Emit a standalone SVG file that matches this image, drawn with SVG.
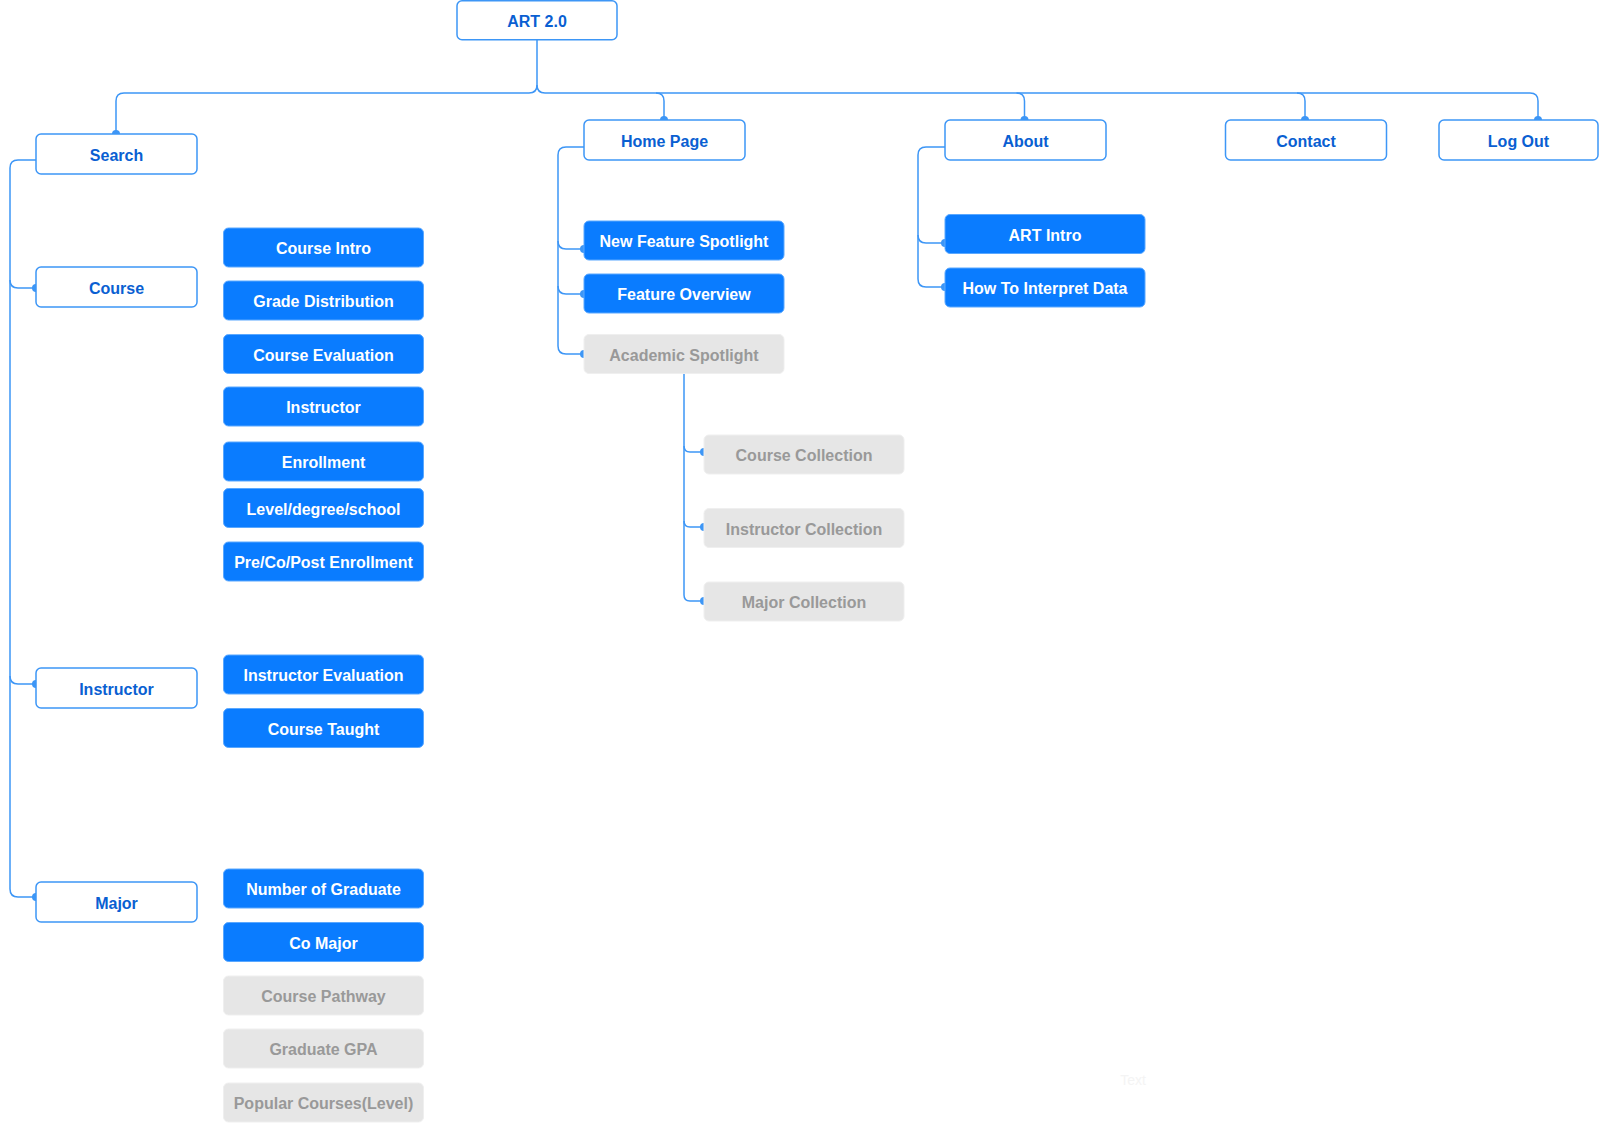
<svg xmlns="http://www.w3.org/2000/svg" width="1600" height="1126" viewBox="0 0 1600 1126">
<style>
  text { font-family: "Liberation Sans", Arial, sans-serif; font-weight: bold; font-size: 16px; text-anchor: middle; }
  .out rect { fill: #ffffff; stroke: #3d96f6; stroke-width: 1.5; }
  .out text { fill: #0a5fd2; }
  .blue rect { fill: #0a7cff; stroke: #5aa8ff; stroke-width: 1; }
  .blue text { fill: #ffffff; }
  .grey rect { fill: #e6e6e6; stroke: #efefef; stroke-width: 1; }
  .grey text { fill: #999999; }
  .conn path { fill: none; stroke: #3d96f6; stroke-width: 1.5; }
  .conn circle { fill: #3d96f6; }
</style>
<rect width="1600" height="1126" fill="#ffffff"/>
<g id="connectors" class="conn">
  <path d="M537,40 V85 Q537,93 529,93 H124 Q116,93 116,101 V134"/>
  <path d="M537,85 Q537,93 545,93 H1530 Q1538,93 1538,101 V120"/>
  <path d="M656,93 Q664,93 664,101 V120"/>
  <path d="M1016.5,93 Q1024.5,93 1024.5,101 V120"/>
  <path d="M1297,93 Q1305,93 1305,101 V120"/>
  <path d="M36,160 H18 Q10,160 10,168 V889 Q10,897 18,897 H36"/>
  <path d="M10,280 Q10,288 18,288 H36"/>
  <path d="M10,676 Q10,684 18,684 H36"/>
  <path d="M584,147 H566 Q558,147 558,155 V346 Q558,354 566,354 H584"/>
  <path d="M558,241 Q558,249 566,249 H584"/>
  <path d="M558,286 Q558,294 566,294 H584"/>
  <path d="M684,374 V595 Q684,601 690,601 H704"/>
  <path d="M684,446 Q684,452 690,452 H704"/>
  <path d="M684,521 Q684,527 690,527 H704"/>
  <path d="M945,147 H926 Q918,147 918,155 V279 Q918,287 926,287 H945"/>
  <path d="M918,235 Q918,243 926,243 H945"/>
  <circle cx="116" cy="134" r="4"/>
  <circle cx="664" cy="120" r="4"/>
  <circle cx="1024.5" cy="120" r="4"/>
  <circle cx="1305" cy="120" r="4"/>
  <circle cx="1538" cy="120" r="4"/>
  <circle cx="36" cy="288" r="4"/>
  <circle cx="36" cy="684" r="4"/>
  <circle cx="36" cy="897" r="4"/>
  <circle cx="584" cy="249" r="4"/>
  <circle cx="584" cy="294" r="4"/>
  <circle cx="584" cy="354" r="4"/>
  <circle cx="704" cy="452" r="4"/>
  <circle cx="704" cy="527" r="4"/>
  <circle cx="704" cy="601" r="4"/>
  <circle cx="945" cy="243" r="4"/>
  <circle cx="945" cy="287" r="4"/>
</g>
<g id="art" class="out"><rect x="457" y="0.75" width="160" height="39" rx="5"/><text x="537" y="27">ART 2.0</text></g>
<g id="search" class="out"><rect x="36" y="134" width="161" height="40" rx="5"/><text x="116.5" y="160.5">Search</text></g>
<g id="home" class="out"><rect x="584" y="120" width="161" height="40" rx="5"/><text x="664.5" y="146.5">Home Page</text></g>
<g id="about" class="out"><rect x="945" y="120" width="161" height="40" rx="5"/><text x="1025.5" y="146.5">About</text></g>
<g id="contact" class="out"><rect x="1225.5" y="120" width="161" height="40" rx="5"/><text x="1306" y="146.5">Contact</text></g>
<g id="logout" class="out"><rect x="1439" y="120" width="159" height="40" rx="5"/><text x="1518.5" y="146.5">Log Out</text></g>
<g id="course" class="out"><rect x="36" y="267" width="161" height="40" rx="5"/><text x="116.5" y="293.5">Course</text></g>
<g id="instructor" class="out"><rect x="36" y="668" width="161" height="40" rx="5"/><text x="116.5" y="694.5">Instructor</text></g>
<g id="major" class="out"><rect x="36" y="882" width="161" height="40" rx="5"/><text x="116.5" y="908.5">Major</text></g>
<g id="course-intro" class="blue"><rect x="223.5" y="228" width="200" height="39" rx="5"/><text x="323.5" y="254">Course Intro</text></g>
<g id="grade-distribution" class="blue"><rect x="223.5" y="281" width="200" height="39" rx="5"/><text x="323.5" y="307">Grade Distribution</text></g>
<g id="course-evaluation" class="blue"><rect x="223.5" y="334.5" width="200" height="39" rx="5"/><text x="323.5" y="360.5">Course Evaluation</text></g>
<g id="course-instructor" class="blue"><rect x="223.5" y="387" width="200" height="39" rx="5"/><text x="323.5" y="413">Instructor</text></g>
<g id="enrollment" class="blue"><rect x="223.5" y="442" width="200" height="39" rx="5"/><text x="323.5" y="468">Enrollment</text></g>
<g id="level" class="blue"><rect x="223.5" y="488.5" width="200" height="39" rx="5"/><text x="323.5" y="514.5">Level/degree/school</text></g>
<g id="pre-co-post" class="blue"><rect x="223.5" y="542" width="200" height="39" rx="5"/><text x="323.5" y="568">Pre/Co/Post Enrollment</text></g>
<g id="instructor-evaluation" class="blue"><rect x="223.5" y="655" width="200" height="39" rx="5"/><text x="323.5" y="681">Instructor Evaluation</text></g>
<g id="course-taught" class="blue"><rect x="223.5" y="708.5" width="200" height="39" rx="5"/><text x="323.5" y="734.5">Course Taught</text></g>
<g id="number-of-graduate" class="blue"><rect x="223.5" y="869" width="200" height="39" rx="5"/><text x="323.5" y="895">Number of Graduate</text></g>
<g id="co-major" class="blue"><rect x="223.5" y="922.5" width="200" height="39" rx="5"/><text x="323.5" y="948.5">Co Major</text></g>
<g id="course-pathway" class="grey"><rect x="223.5" y="976" width="200" height="39" rx="5"/><text x="323.5" y="1002">Course Pathway</text></g>
<g id="graduate-gpa" class="grey"><rect x="223.5" y="1029" width="200" height="39" rx="5"/><text x="323.5" y="1055">Graduate GPA</text></g>
<g id="popular-courses" class="grey"><rect x="223.5" y="1083" width="200" height="39" rx="5"/><text x="323.5" y="1109">Popular Courses(Level)</text></g>
<g id="new-feature-spotlight" class="blue"><rect x="584" y="221" width="200" height="39" rx="5"/><text x="684" y="247">New Feature Spotlight</text></g>
<g id="feature-overview" class="blue"><rect x="584" y="274" width="200" height="39" rx="5"/><text x="684" y="300">Feature Overview</text></g>
<g id="academic-spotlight" class="grey"><rect x="584" y="334.5" width="200" height="39" rx="5"/><text x="684" y="360.5">Academic Spotlight</text></g>
<g id="course-collection" class="grey"><rect x="704" y="435" width="200" height="39" rx="5"/><text x="804" y="461">Course Collection</text></g>
<g id="instructor-collection" class="grey"><rect x="704" y="508.5" width="200" height="39" rx="5"/><text x="804" y="534.5">Instructor Collection</text></g>
<g id="major-collection" class="grey"><rect x="704" y="582" width="200" height="39" rx="5"/><text x="804" y="608">Major Collection</text></g>
<g id="art-intro" class="blue"><rect x="945" y="214.5" width="200" height="39" rx="5"/><text x="1045" y="240.5">ART Intro</text></g>
<g id="how-to-interpret" class="blue"><rect x="945" y="268" width="200" height="39" rx="5"/><text x="1045" y="294">How To Interpret Data</text></g>
<text x="1133" y="1085" style="font-size:14px; font-weight:normal; fill:#f4f4f4">Text</text>
</svg>
